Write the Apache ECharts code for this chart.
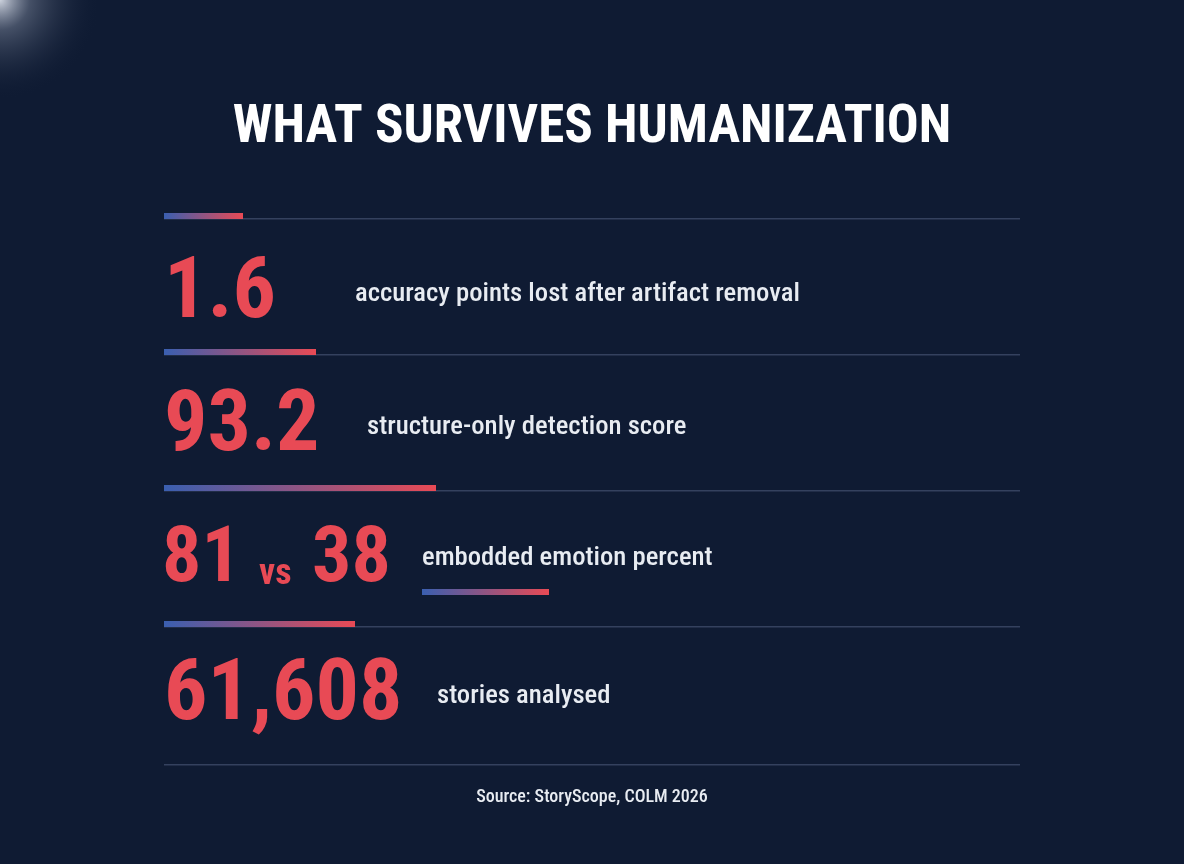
<!DOCTYPE html><html><head><meta charset="utf-8">
<script src="https://cdn.jsdelivr.net/npm/echarts@6/dist/echarts.min.js"></script>
<style>html,body{margin:0;padding:0;background:#0f1b33}#c{width:1184px;height:864px}</style></head><body><div id="c"></div>
<script>
const title = "WHAT SURVIVES HUMANIZATION";
const bigNumbers = ["1.6", "93.2", "81|vs|38", "61,608"];
const labels = ["accuracy points lost after artifact removal", "structure-only detection score", "embodded emotion percent", "stories analysed"];
const source = "Source: StoryScope, COLM 2026";

const FONT = '"Roboto Condensed","Liberation Sans Narrow","Roboto",sans-serif';
const RED = '#e84a55', BLUE = '#3a5fb0';
const grad = () => new echarts.graphic.LinearGradient(0,0,1,0,[{offset:0,color:BLUE},{offset:1,color:RED}]);
const lineYs = [219, 355, 491, 627, 765];
const accentW = [79, 152, 272, 191];
const rowY = [295, 428, 561, 697];
const labelX = [355, 367, 422, 437];
const g = [];
g.push({type:'circle',shape:{cx:0,cy:0,r:100},style:{fill:new echarts.graphic.RadialGradient(0.5,0.5,0.5,[{offset:0,color:'rgba(225,230,240,0.9)'},{offset:0.3,color:'rgba(150,160,180,0.4)'},{offset:1,color:'rgba(15,27,51,0)'}])}});
g.push({type:'text',left:'center',top:102,style:{text:title,fill:'#ffffff',font:'bold 53px '+FONT}});
lineYs.forEach((y,i)=>{
  g.push({type:'rect',shape:{x:164,y:y-1,width:856,height:1.5},style:{fill:'#34415e'}});
  if(i<4) g.push({type:'rect',shape:{x:164,y:y-6,width:accentW[i],height:6},style:{fill:grad()}});
});
bigNumbers.forEach((t,i)=>{
  const parts=t.split('|');
  if(parts.length===1){
    g.push({type:'text',x:164,y:rowY[i],style:{text:t,fill:RED,font:'bold 86px '+FONT,verticalAlign:'middle'}});
  } else {
    g.push({type:'text',x:162,y:rowY[i],style:{text:parts[0],fill:RED,font:'bold 78px '+FONT,verticalAlign:'middle'}});
    g.push({type:'text',x:259,y:rowY[i]+14,style:{text:parts[1],fill:RED,font:'bold 36px '+FONT,verticalAlign:'middle'}});
    g.push({type:'text',x:312,y:rowY[i],style:{text:parts[2],fill:RED,font:'bold 78px '+FONT,verticalAlign:'middle'}});
  }
  g.push({type:'text',x:labelX[i],y:i===2?rowY[i]-3:rowY[i]-1,style:{text:labels[i],fill:'#e8ecf2',font:'500 26.7px '+FONT,verticalAlign:'middle'}});
});
g.push({type:'rect',shape:{x:422,y:589,width:127,height:6},style:{fill:grad()}});
g.push({type:'text',left:'center',top:788,style:{text:source,fill:'#e8ecf2',font:'500 18px '+FONT}});
const chart = echarts.init(document.getElementById('c'));
chart.setOption({backgroundColor:'#0f1b33',graphic:g});
</script></body></html>
